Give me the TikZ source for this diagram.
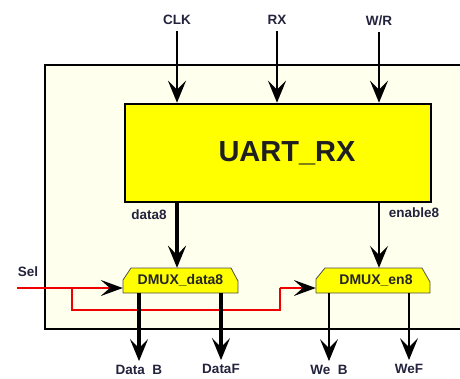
\documentclass[tikz,border=0pt]{standalone}
\usepackage{fontspec}
\setmainfont{Liberation Sans}
\usetikzlibrary{arrows.meta,calc}
\definecolor{cream}{RGB}{255,255,238}
\definecolor{lbl}{RGB}{35,35,62}
\definecolor{sigred}{RGB}{240,0,0}
\definecolor{yel}{RGB}{255,255,0}
\tikzset{
  tip/.style={-{Stealth[length=22pt,width=18pt,inset=9pt,color=black]}},
  thinsig/.style={tip,line width=1.6pt,black},
  medsig/.style={tip,line width=2.2pt,black},
  thicksig/.style={tip,line width=4pt,black},
  redsig/.style={sigred,line width=2pt},
  redarrow/.style={redsig,-{Stealth[length=22pt,width=16pt,inset=9pt,color=black]}},
  lab/.style={font=\fontsize{13.5}{13.5}\selectfont\bfseries,text=lbl,inner sep=0pt},
  dmuxtext/.style={font=\fontsize{14}{14}\selectfont\bfseries,text=black!85,inner sep=0pt},
  dmuxshape/.style={fill=yel,draw=black!70,line width=0.8pt},
}
\begin{document}
\begin{tikzpicture}[x=1pt,y=-1pt]
\useasboundingbox (0,0) rectangle (460,378);
% outer box
\fill[cream] (45,65) rectangle (470,329);
\draw[line width=2pt] (470,65) -- (45,65) -- (45,329) -- (470,329);
% UART
\node[draw=black,line width=2.5pt,fill=yel,minimum width=306pt,minimum height=98pt,inner sep=0pt,
      font=\fontsize{29}{29}\selectfont\bfseries,text=black!88] (uart) at (278,153) {\hspace{18pt}UART\_RX};
% input labels
\node[lab] (clk) at (177,20) {CLK};
\node[lab] (rx) at (277,20) {RX};
\node[lab] (wr) at (379,21) {W/R};
\draw[medsig] (clk.south) ++(0,6) coordinate (clks) -- (clks |- uart.north);
\draw[medsig] (rx.south) ++(0,6) coordinate (rxs) -- (rxs |- uart.north);
\draw[medsig] (wr.south) ++(0,6) coordinate (wrs) -- (wrs |- uart.north);
% DMUX shapes
\draw[dmuxshape] (123,293) -- (123,280) -- (131,268) -- (231,268) -- (238,281) -- (238,293) -- cycle;
\draw[dmuxshape] (316,293) -- (316,279) -- (325,268) -- (422,268) -- (430,282) -- (430,293) -- cycle;
\node[dmuxtext,minimum width=115pt,minimum height=25pt] (dd) at (180.5,280.5) {DMUX\_data8};
\node[dmuxtext,minimum width=114pt,minimum height=25pt] (de) at (373,280.5) {\hspace{6pt}DMUX\_en8};
% uart outputs
\node[lab] (d8) at (149,215) {data8};
\node[lab] (en8) at (414,213) {enable8};
\coordinate (d8x) at (177,0);
\coordinate (en8x) at (379,0);
\draw[thicksig] (d8x |- uart.south) -- (d8x |- dd.north);
\draw[thinsig] (en8x |- uart.south) -- (en8x |- de.north);
% Sel
\node[lab] (sel) at (28,272) {Sel};
\coordinate (sels) at (17,288);
\coordinate (br) at (72,288);
\coordinate (b1) at (72,310);
\coordinate (b2) at (280,310);
\coordinate (b3) at (280,288);
\draw[redarrow] (sels) -- (sels -| dd.west);
\draw[redsig,line join=miter] (br) -- (b1) -- (b2) -- (b3);
\draw[redarrow] (b3) -- (b3 -| de.west);
% outputs
\node[lab] (db) at (139,370) {Data~~B};
\node[lab] (df) at (221,369) {DataF};
\node[lab] (wb) at (329,370) {We~~B};
\node[lab] (wf) at (409,369) {WeF};
\draw[thicksig] (dd.south -| db) -- ($(db.north)+(0,-4)$);
\draw[thicksig] (dd.south -| df) -- ($(df.north)+(0,-4)$);
\draw[thinsig] (de.south -| wb) -- ($(wb.north)+(0,-4)$);
\draw[thinsig] (de.south -| wf) -- ($(wf.north)+(0,-4)$);
\end{tikzpicture}
\end{document}
